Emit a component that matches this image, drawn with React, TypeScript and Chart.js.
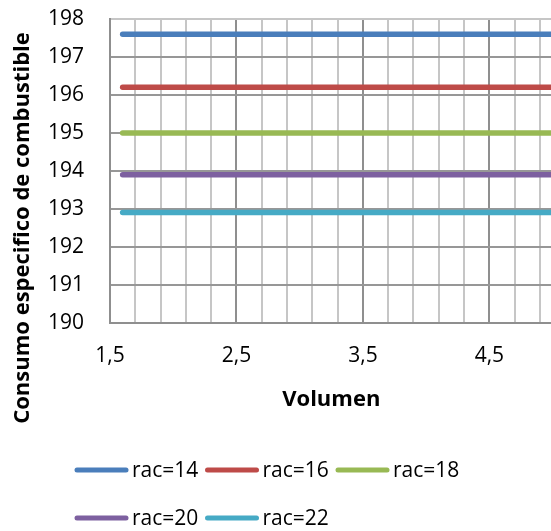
import React, { useEffect, useRef } from "react";
import { Chart, registerables } from "chart.js";

Chart.register(...registerables);

const volumen = [1.6, 2.0, 2.5, 3.0, 3.5, 4.0, 4.5, 5.0];
const rac14 = [197.6, 197.6, 197.6, 197.6, 197.6, 197.6, 197.6, 197.6];
const rac16 = [196.2, 196.2, 196.2, 196.2, 196.2, 196.2, 196.2, 196.2];
const rac18 = [195.0, 195.0, 195.0, 195.0, 195.0, 195.0, 195.0, 195.0];
const rac20 = [193.9, 193.9, 193.9, 193.9, 193.9, 193.9, 193.9, 193.9];
const rac22 = [192.9, 192.9, 192.9, 192.9, 192.9, 192.9, 192.9, 192.9];

const seriesLabels = ["rac=14", "rac=16", "rac=18", "rac=20", "rac=22"];
const seriesColors = ["#4A7EBB", "#BE4B48", "#98B954", "#7D60A0", "#46AAC5"];

const xGridValues = [1.5, 1.7, 1.9, 2.1, 2.3, 2.5, 2.7, 2.9, 3.1, 3.3, 3.5, 3.7, 3.9, 4.1, 4.3, 4.5, 4.7, 4.9];
const xLabelValues = [1.5, 2.5, 3.5, 4.5];
const xTickLabels = ["1,5", "2,5", "3,5", "4,5"];

const yTitle = "Consumo especifico de combustible";
const xTitle = "Volumen";

const FONT = "'Open Sans', sans-serif";

const yTitlePlugin = {
  id: "yTitlePlugin",
  afterDraw(chart: any) {
    const ctx = chart.ctx;
    ctx.save();
    ctx.translate(23, 228);
    ctx.rotate(-Math.PI / 2);
    ctx.font = `bold 22px ${FONT}`;
    ctx.fillStyle = "#000000";
    ctx.textAlign = "center";
    ctx.textBaseline = "middle";
    ctx.fillText(yTitle, 0, 0);
    ctx.restore();
  },
};

const legendPlugin = {
  id: "customLegend",
  afterDraw(chart: any) {
    const ctx = chart.ctx;
    ctx.save();
    chart.data.datasets.forEach((ds: any, i: number) => {
      const row = Math.floor(i / 3);
      const col = i % 3;
      const x0 = 77 + col * 130.5;
      const y = 470 + row * 48;
      ctx.strokeStyle = ds.borderColor;
      ctx.lineWidth = 5;
      ctx.lineCap = "round";
      ctx.beginPath();
      ctx.moveTo(x0, y);
      ctx.lineTo(x0 + 49, y);
      ctx.stroke();
      ctx.font = `21px ${FONT}`;
      ctx.fillStyle = "#000000";
      ctx.textAlign = "left";
      ctx.textBaseline = "middle";
      ctx.fillText(ds.label, x0 + 55, y + 1);
    });
    ctx.restore();
  },
};

export default function App() {
  const ref = useRef<HTMLCanvasElement | null>(null);

  useEffect(() => {
    if (!ref.current) return;
    const all = [rac14, rac16, rac18, rac20, rac22];
    const chart = new Chart(ref.current, {
      type: "line",
      data: {
        datasets: all.map((vals, i) => ({
          label: seriesLabels[i],
          data: volumen.map((x, j) => ({ x, y: vals[j] })),
          borderColor: seriesColors[i],
          backgroundColor: seriesColors[i],
          borderWidth: 5.5,
          borderCapStyle: "round",
          pointRadius: 0,
          tension: 0,
        })),
      },
      options: {
        animation: false,
        responsive: false,
        devicePixelRatio: 1,
        layout: { padding: { left: 0, top: 19, right: 7.4, bottom: 117.8 } },
        plugins: {
          legend: { display: false },
          tooltip: { enabled: false },
        },
        scales: {
          x: {
            type: "linear",
            min: 1.5,
            max: 5.0,
            afterBuildTicks: (s: any) => {
              s.ticks = xGridValues.map((v) => ({ value: v }));
            },
            afterFit: (s: any) => {
              s.height = 90.5;
              s.paddingLeft = 0;
              s.paddingRight = 0;
            },
            ticks: {
              autoSkip: false,
              maxRotation: 0,
              padding: 21,
              color: "#000000",
              font: { family: FONT, size: 21 },
              callback: (value: any) => {
                const idx = xLabelValues.findIndex((v) => Math.abs(v - Number(value)) < 1e-6);
                return idx >= 0 ? xTickLabels[idx] : "";
              },
            },
            grid: {
              drawTicks: false,
              lineWidth: 2,
              color: (c: any) => {
                const v = c.tick ? c.tick.value : 0;
                const major = xLabelValues.some((m) => Math.abs(m - v) < 1e-6);
                return major ? "#8f8f8f" : "#c6c6c6";
              },
            },
            border: { color: "#8f8f8f", width: 2 },
            title: {
              display: true,
              text: xTitle,
              color: "#000000",
              font: { family: FONT, size: 22, weight: "bold" },
              padding: { top: 0, bottom: 0 },
            },
          },
          y: {
            min: 190,
            max: 198,
            afterFit: (s: any) => {
              s.width = 110;
              s.paddingTop = 0;
              s.paddingBottom = 0;
            },
            ticks: {
              stepSize: 1,
              padding: 26,
              color: "#000000",
              font: { family: FONT, size: 21 },
            },
            grid: {
              drawTicks: false,
              lineWidth: 2,
              color: (c: any) => (c.tick && c.tick.value === 198 ? "#c6c6c6" : "#979797"),
            },
            border: { color: "#8f8f8f", width: 2 },
          },
        },
      },
      plugins: [yTitlePlugin, legendPlugin],
    } as any);
    return () => chart.destroy();
  }, []);

  return (
    <div style={{ position: "absolute", left: 0, top: 0, width: 551, height: 531, overflow: "hidden", background: "#ffffff" }}>
      <canvas ref={ref} width={560} height={531} style={{ width: 560, height: 531, display: "block" }} />
    </div>
  );
}
